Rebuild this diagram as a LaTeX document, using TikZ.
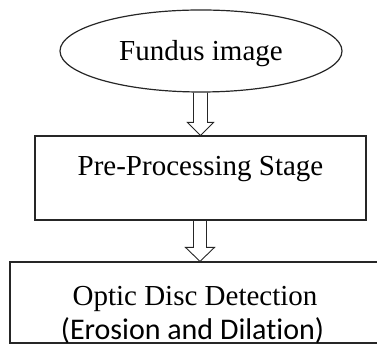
\documentclass[tikz,border=0pt]{standalone}
\usepackage{fontspec}
\setmainfont{Liberation Serif}
\newfontfamily\stagesans[Ligatures=NoCommon]{Carlito}
\usetikzlibrary{calc,shapes.geometric}
\begin{document}
\begin{tikzpicture}[x=1pt,y=1pt]
% Flow of the optic disc detection steps
\providecommand{\flowLineColor}{black!85}
\providecommand{\flowLineWidth}{1.2pt}
\tikzset{
  stagebox/.style={draw=\flowLineColor, line width=\flowLineWidth, inner sep=0pt},
  stagetext/.style={anchor=base, inner sep=0pt, font=\fontsize{29}{34}\selectfont},
  hollowarrow/.style={draw=\flowLineColor, line width=0.9pt, line join=miter}
}
% Hollow down arrow: from, to, shaft half width, head half width, head length
\newcommand{\hollowdown}[5]{%
  \draw[hollowarrow] ([xshift=-#3]#2 |- #1) -- ([xshift=-#3,yshift=#5]#2)
    -- ([xshift=-#4,yshift=#5]#2) -- (#2) -- ([xshift=#4,yshift=#5]#2)
    -- ([xshift=#3,yshift=#5]#2) -- ([xshift=#3]#2 |- #1);}
\useasboundingbox (0,0) rectangle (377,344);
% Input and stage boxes
\node[stagebox, ellipse, minimum width=282pt, minimum height=82pt] (fundus) at (201,293) {};
\node[stagebox, rectangle, minimum width=331pt, minimum height=84pt] (pre) at (200.5,166) {};
\node[stagebox, rectangle, minimum width=380pt, minimum height=81pt] (detect) at (200,41.5) {};
% Texts
\node[stagetext] (fundustext) at ([yshift=-10pt]fundus.center) {Fundus image};
\node[stagetext] (pretext) at ([yshift=2pt]pre.center) {Pre-Processing Stage};
\node[stagetext] (detecttext) at ([xshift=-5pt,yshift=-3.5pt]detect.center) {Optic Disc Detection};
\node[stagetext, font=\stagesans\fontsize{30}{34}\selectfont] (methodtext) at ([xshift=-7.5pt,yshift=-37.5pt]detect.center) {(Erosion and Dilation)};
% Arrows between the stages
\hollowdown{fundus.south}{pre.north}{7pt}{13pt}{13pt}
\hollowdown{pre.south}{detect.north}{6.5pt}{14.5pt}{14pt}
\end{tikzpicture}
\end{document}
